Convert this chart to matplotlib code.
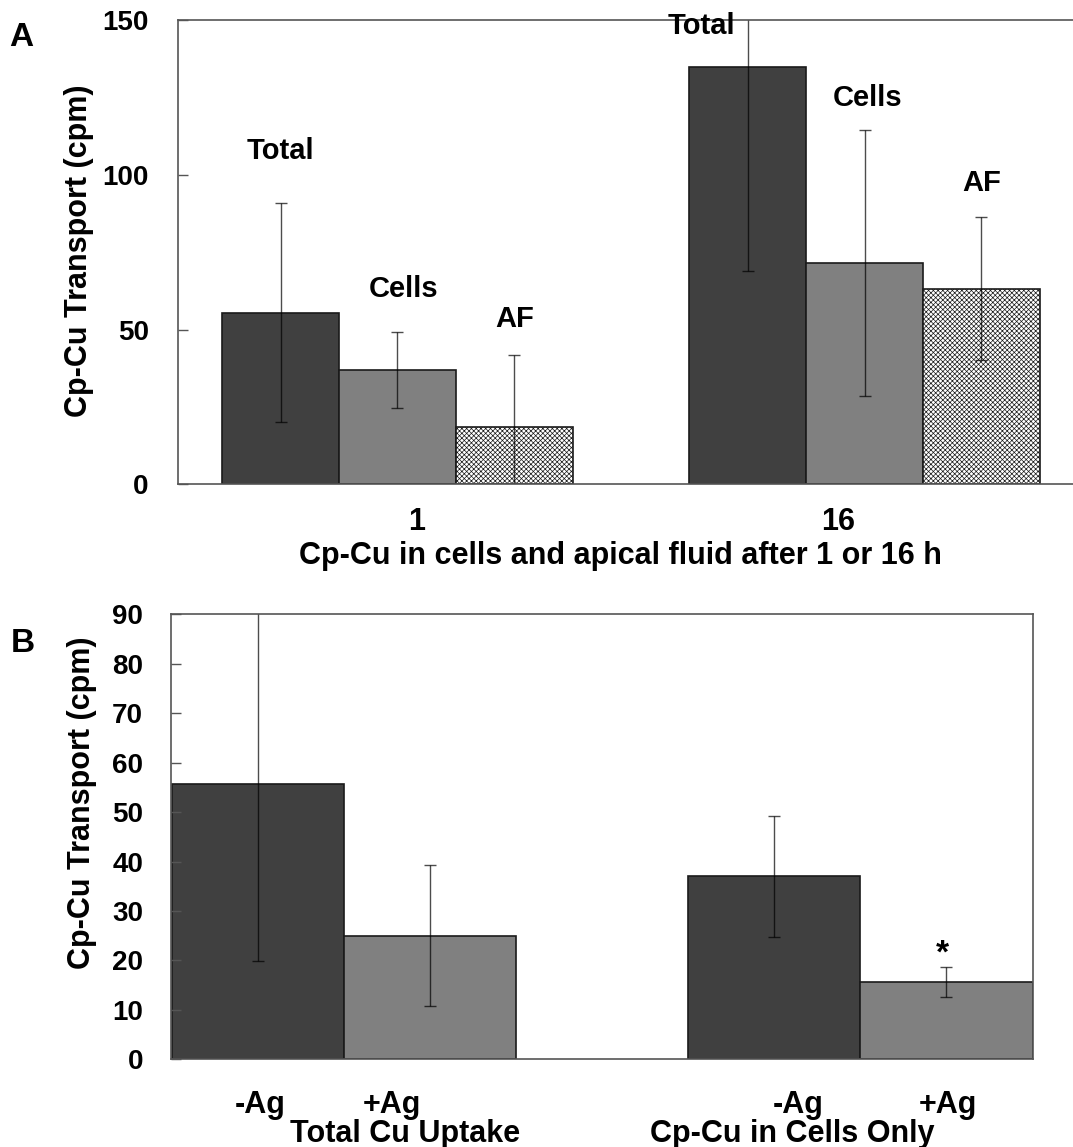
import matplotlib.pyplot as plt
import numpy as np

plt.rcParams['font.family'] = ['Liberation Sans', 'DejaVu Sans']
plt.rcParams['font.weight'] = 'bold'
plt.rcParams['hatch.color'] = '#b0b0b0'
plt.rcParams['hatch.linewidth'] = 0.5

# Panel A: Cp-Cu after 1 or 16 h
times = ['1', '16']
total_a = [55.5, 134.9]
total_a_err = [35.5, 66.0]
cells_a = [37.0, 71.7]
cells_a_err = [12.3, 43.0]
af_a = [18.6, 63.3]
af_a_err = [23.3, 23.1]

# Panel B: -Ag / +Ag
groups_b = ['Total Cu Uptake', 'Cp-Cu in Cells Only']
minus_ag = [55.6, 37.0]
minus_ag_err = [35.7, 12.3]
plus_ag = [25.0, 15.6]
plus_ag_err = [14.3, 3.1]

dark = '#404040'
mid = '#808080'
edge = '#1a1a1a'
W, H = 1073, 1147

fig = plt.figure(figsize=(W / 100, H / 100), dpi=100)
# semi-transparent black so the bars stay visible inside the dark bars
ekw = dict(ecolor='black', elinewidth=1.0, capsize=4, capthick=1.0, alpha=0.7)

# ---------------- panel A ----------------
axA = fig.add_axes([178/W, 1-484.3/H, 906/W, 463.9/H])
w = 0.2505
x = np.arange(len(times))
axA.bar(x - w, total_a, w, yerr=total_a_err, color=dark, edgecolor=edge, linewidth=1.2, error_kw=ekw)
axA.bar(x, cells_a, w, yerr=cells_a_err, color=mid, edgecolor=edge, linewidth=1.2, error_kw=ekw)
axA.bar(x + w, af_a, w, yerr=af_a_err, color='white', edgecolor=edge, linewidth=1.2,
        hatch='xxxxxxx', error_kw=ekw)
axA.set_xlim(-0.47, 1.47)
axA.set_ylim(0, 150)
axA.set_yticks([0, 50, 100, 150])
axA.tick_params(axis='y', direction='in', length=7, width=1, color='#555555', labelsize=20, pad=21)
axA.set_xticks([0.042, 0.943])
axA.set_xticklabels(times)
axA.tick_params(axis='x', length=0, labelsize=22, pad=16)
axA.set_xlabel('Cp-Cu in cells and apical fluid after 1 or 16 h', fontsize=22, fontweight='bold')
axA.xaxis.set_label_coords((620 - 178) / 906, -0.122)
axA.set_ylabel('Cp-Cu Transport (cpm)', fontsize=22, fontweight='bold')
axA.yaxis.set_label_coords((79.5 - 178) / 906, 0.503)
axA.yaxis.label.set_verticalalignment('center')
for s in axA.spines.values():
    s.set_color('#555555')
    s.set_linewidth(1.2)

lab_kw = dict(ha='center', va='center', fontsize=21, fontweight='bold')
axA.text(-w, 107.8, 'Total', **lab_kw)
axA.text(0.013, 63, 'Cells', **lab_kw)
axA.text(w, 53.3, 'AF', **lab_kw)
axA.text(0.650, 148.2, 'Total', **lab_kw)
axA.text(1.006, 125, 'Cells', **lab_kw)
axA.text(1 + w, 97.3, 'AF', **lab_kw)
fig.text(21/W, 1-37.5/H, 'A', fontsize=24, fontweight='bold', ha='center', va='center')

# ---------------- panel B ----------------
axB = fig.add_axes([171/W, 1-1059.2/H, 861.5/W, 444.8/H])
wb = 0.334
xb = np.arange(len(groups_b))
axB.bar(xb - wb/2, minus_ag, wb, yerr=minus_ag_err, color=dark, edgecolor=edge, linewidth=1.2, error_kw=ekw)
axB.bar(xb + wb/2, plus_ag, wb, yerr=plus_ag_err, color=mid, edgecolor=edge, linewidth=1.2, error_kw=ekw)
axB.set_xlim(-0.335, 1.334)
axB.set_ylim(0, 90)
axB.set_yticks(np.arange(0, 91, 10))
axB.tick_params(axis='y', direction='in', length=7, width=1, color='#555555', labelsize=20, pad=20)
axB.set_xticks([])
axB.set_ylabel('Cp-Cu Transport (cpm)', fontsize=22, fontweight='bold')
axB.yaxis.set_label_coords((82 - 171) / 861.5, 0.577)
axB.yaxis.label.set_verticalalignment('center')
for s in axB.spines.values():
    s.set_color('#555555')
    s.set_linewidth(1.2)

tr = axB.get_xaxis_transform()
tk = dict(ha='center', va='center', fontsize=22, fontweight='bold', transform=tr)
axB.text(-0.163, -0.104, '-Ag', **tk)
axB.text(0.093, -0.104, '+Ag', **tk)
axB.text(0.880, -0.104, '-Ag', **tk)
axB.text(1.170, -0.104, '+Ag', **tk)
axB.text(0.119, -0.168, groups_b[0], **tk)
axB.text(0.869, -0.168, groups_b[1], **tk)
axB.text(1.159, plus_ag[1] + plus_ag_err[1] + 2.6, '*', ha='center', va='center',
         fontsize=24, fontweight='bold')
fig.text(23/W, 1-643/H, 'B', fontsize=24, fontweight='bold', ha='center', va='center')

fig.savefig('out.png', dpi=100)
